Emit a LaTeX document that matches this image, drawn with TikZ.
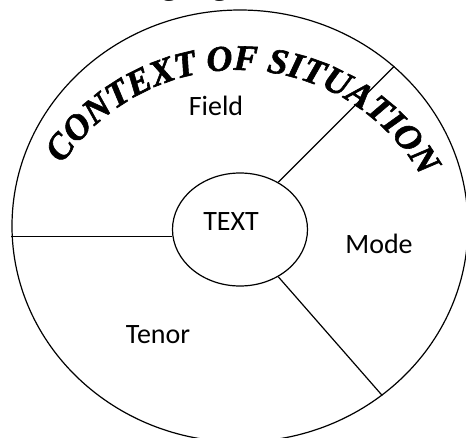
\documentclass[tikz,border=0pt]{standalone}
\usepackage{fontspec}
\setmainfont{Carlito}
\newfontfamily\serfont{Liberation Serif}[BoldItalicFeatures={FakeBold=1.6}]
\usetikzlibrary{shapes.geometric,decorations.text}

\begin{document}
\begin{tikzpicture}[x=1pt, y=1pt,
    ring/.style={draw, ellipse, line width=1.2pt, inner sep=0pt},
    spoke/.style={line width=1.2pt},
    lbl/.style={font=\fontsize{28}{34}\selectfont, inner sep=0pt, anchor=base},
    arctext/.style={decorate, decoration={text along path, text align=center,
        text={|\serfont\bfseries\itshape\fontsize{36}{36}\selectfont|CONTEXT OF SITUATION}}}
]
\useasboundingbox (-240,-211) rectangle (226,226);
\begin{scope}
\clip (-240,-211) rectangle (226,226);
\node[font=\serfont\fontsize{32}{32}\selectfont, anchor=base east, inner sep=0pt] (intro) at (77,231.5) {the following Figure 2.3};
\end{scope}

\node[ring, minimum width=456pt, minimum height=432pt] (ctx) at (0,0) {};
\node[ring, minimum width=135pt, minimum height=113pt] (txt) at (0,-3.5) {};
\path[arctext] (-2,-55) ++(170:211) arc[start angle=170, end angle=6, radius=211];

\node[lbl] (field) at (-24,111) {Field};
\node[lbl] (text) at (-9,-4) {TEXT};
\node[lbl] (mode) at (139,-27) {Mode};
\node[lbl] (tenor) at (-82,-117) {Tenor};

\draw[spoke] (txt.186) -- (txt.186 -| ctx.west);
\draw[spoke] (txt.51) -- (ctx.46.5);
\draw[spoke] (txt.309) -- (ctx.310);
\end{tikzpicture}
\end{document}
